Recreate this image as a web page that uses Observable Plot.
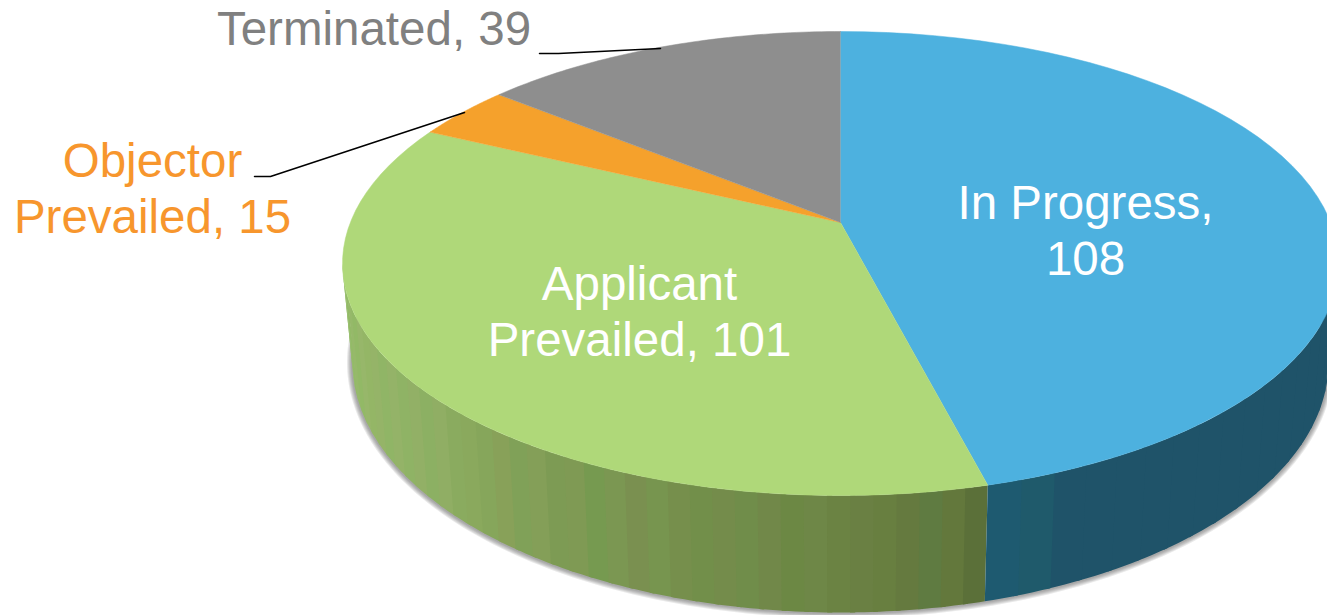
<!DOCTYPE html>
<html>
<head>
<meta charset="utf-8">
<script src="https://cdn.jsdelivr.net/npm/d3@7"></script>
<script src="https://cdn.jsdelivr.net/npm/@observablehq/plot@0.6"></script>
<style>html,body{margin:0;padding:0;background:#fff;overflow:hidden}</style>
</head>
<body>
<div id="chart"></div>
<script>
// Data
const categories = ["In Progress", "Applicant Prevailed", "Objector Prevailed", "Terminated"];
const values = [108, 101, 15, 39];
const labelLines = [["In Progress,", "108"], ["Applicant", "Prevailed, 101"], ["Objector", "Prevailed, 15"], ["Terminated, 39"]];
const topColors = ["#4db1df", "#afd879", "#f5a12c", "#8e8e8e"];
const labelColors = ["#ffffff", "#ffffff", "#f7962d", "#808080"];

// Side shading, left to right across the visible rim
const greenSide = ["#92bf69","#97bc6b","#93bb67","#96b96a","#92b966","#97b76a","#94b666","#95b468","#90b566","#94b368",
  "#8fb365","#92b066","#8cb063","#90ae64","#8aab5f","#8aa95d","#86a65b","#88a159","#80a158","#849f58",
  "#7d9b54","#7f9a54","#769a50","#7b9752","#7a9050","#77954f","#768f4c","#728f4a","#748c4b","#708d4a",
  "#718849","#6c8844","#6e8747","#6b8343","#6a8043","#687f40","#657a3f","#5f7b41","#63783c","#5b7039"];
// from the seam with the green slice out to the right
const blueSide = ["#1e5a70","#1f5a6b","#1f5369","#1f5369","#1f5369","#1f5369","#1f5369","#1f5369","#1f5369","#1f5369",
  "#1f5369","#1f5369","#1f5369","#1f5369","#1f5369","#1f5369","#1f5369","#1f5369","#1f5369","#1f5369"];

// Perspective layout of the disc
const apex = {x: 840, y: 222};
const rimTop = {cx: 840, cy: 263, rx: 498, ry: 232};
const rimBottom = {cx: 840, cy: 362, rx: 488, ry: 250};
const cumulative = [0, ...d3.cumsum(values)];
// foreshortening: share of the pie -> angle along the projected ellipse
const angleOf = d3.scaleLinear().domain(cumulative).range([0, 162.8, 304.5, 316.7, 360]);
const at = (rim, deg) => {
  const a = deg * Math.PI / 180;
  return {x: rim.cx + rim.rx * Math.sin(a), y: rim.cy - rim.ry * Math.cos(a)};
};

// Top wedges
const wedges = [];
values.forEach((v, i) => {
  const start = angleOf(cumulative[i]), end = angleOf(cumulative[i + 1]);
  wedges.push({...apex, slice: categories[i], color: topColors[i]});
  d3.range(0, 61).forEach(k => wedges.push({...at(rimTop, start + (end - start) * k / 60), slice: categories[i], color: topColors[i]}));
});

// Side bands: painted in order, each one runs a little under the next
const bands = [];
function addBands(colors, from, to, tag) {
  const dir = Math.sign(to - from);
  colors.forEach((color, i) => {
    const a0 = from + (to - from) * i / colors.length;
    let a1 = from + (to - from) * (i + 1) / colors.length;
    if (i < colors.length - 1) a1 += dir * 0.6;
    const band = tag + i;
    const steps = d3.range(0, 5).map(k => a0 + (a1 - a0) * k / 4);
    steps.forEach(a => bands.push({...at(rimTop, a), band, color}));
    steps.slice().reverse().forEach(a => bands.push({...at(rimBottom, a), band, color}));
  });
}
const seam = angleOf(cumulative[1]);
addBands(greenSide, 270, seam, "g");
addBands(blueSide.slice().reverse(), 80, seam, "b");

// Soft shadow along the lower edge
const shadowEdge = d3.range(80, 281, 1).map(a => at(rimBottom, a));
const shadowWidths = [11, 9, 7, 5, 3];

// Leader lines
const leaders = [
  {x: 539, y: 53, id: "t"}, {x: 558, y: 53, id: "t"}, {x: 660, y: 48, id: "t"},
  {x: 254, y: 176, id: "o"}, {x: 270, y: 176, id: "o"}, {x: 464, y: 112, id: "o"}
];

// Label anchors (block centre)
const labelPos = [{x: 1085, y: 229}, {x: 639, y: 310}, {x: 152, y: 187}, {x: 373.5, y: 27}];
const labels = labelLines.map((lines, i) => ({text: lines.join("\n"), color: labelColors[i], ...labelPos[i]}));

const chart = Plot.plot({
  width: 1327,
  height: 615,
  margin: 0,
  style: {background: "#fff", fontFamily: "'Liberation Sans', Helvetica, Arial, sans-serif"},
  x: {domain: [0, 1327], range: [0, 1327], axis: null},
  y: {domain: [0, 615], range: [0, 615], axis: null},
  color: {type: "identity"},
  marks: [
    ...shadowWidths.map(w => Plot.line(shadowEdge, {x: "x", y: "y", stroke: "#555", strokeOpacity: 0.13, strokeWidth: w})),
    Plot.line(bands, {x: "x", y: "y", z: "band", fill: "color"}),
    Plot.line(wedges, {x: "x", y: "y", z: "slice", fill: "color", stroke: "color", strokeWidth: 0.5}),
    Plot.line(leaders, {x: "x", y: "y", z: "id", stroke: "#000", strokeWidth: 1.5}),
    Plot.text(labels, {x: "x", y: "y", text: "text", fill: "color", fontSize: 47.5, lineHeight: 1.18, textAnchor: "middle"})
  ]
});
document.getElementById("chart").append(chart);
</script>
</body>
</html>
